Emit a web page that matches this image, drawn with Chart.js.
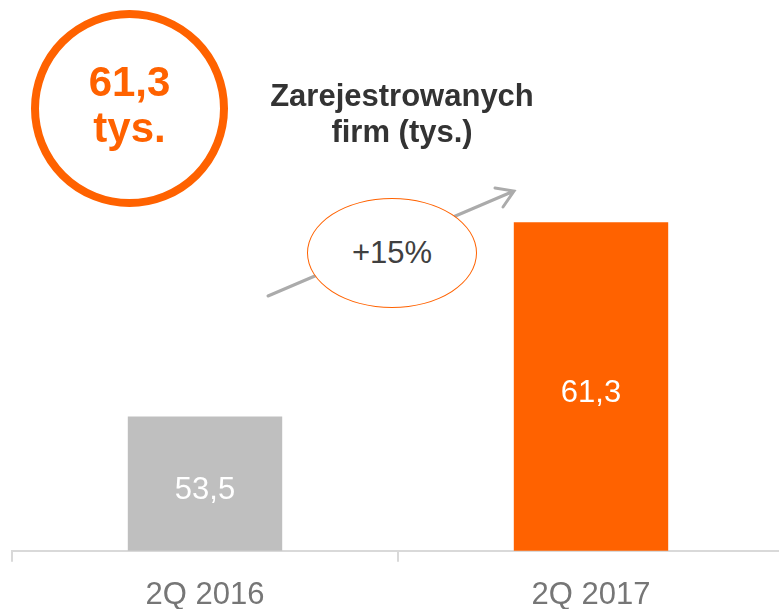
<!DOCTYPE html>
<html>
<head>
<meta charset="utf-8">
<script src="https://cdn.jsdelivr.net/npm/chart.js@4/dist/chart.umd.min.js"></script>
<style>
  html, body { margin: 0; padding: 0; background: #fff; overflow: hidden; }
  #wrap { position: relative; width: 779px; height: 609px; overflow: hidden; }
  #chart { position: absolute; left: 0; top: 0; }
  .badge {
    position: absolute; left: 31px; top: 10px; width: 197px; height: 197px;
    box-sizing: border-box; border: 8px solid #FF6200; border-radius: 50%;
    display: flex; align-items: center; justify-content: center; text-align: center;
    font: bold 42px 'Liberation Sans', Arial, sans-serif; line-height: 46px;
    color: #FF6200; padding-bottom: 7px;
  }
  .title {
    position: absolute; left: 252px; top: 78px; width: 300px; text-align: center;
    font: bold 31px 'Liberation Sans', Arial, sans-serif; line-height: 36px; color: #333;
  }
  .growth {
    position: absolute; left: 307px; top: 198px; width: 170px; height: 110px;
    box-sizing: border-box; border: 1.5px solid #FF6200; border-radius: 50%; background: #fff;
    display: flex; align-items: center; justify-content: center;
    font: 31px 'Liberation Sans', Arial, sans-serif; color: #404040;
  }
</style>
</head>
<body>
<div id="wrap">
  <canvas id="chart" width="784" height="629"></canvas>
  <div class="badge" id="badge"></div>
  <div class="title" id="title"></div>
  <div class="growth" id="growth"></div>
</div>
<script>
const categories = ['2Q 2016', '2Q 2017']
const firms = [53.5, 61.3]
const barColors = ['#BFBFBF', '#FF6200']
const titleLines = ['Zarejestrowanych', 'firm (tys.)']
const badgeLines = ['61,3', 'tys.']
const growthLabel = '+15%'

document.getElementById('title').innerHTML = titleLines.join('<br>')
document.getElementById('badge').innerHTML = badgeLines.join('<br>')
document.getElementById('growth').textContent = growthLabel

const fmt = v => v.toFixed(1).replace('.', ',')

// value labels inside the bars
const barLabels = {
  id: 'barLabels',
  afterDraw(chart) {
    const ctx = chart.ctx
    const yScale = chart.scales.y
    const xScale = chart.scales.x
    ctx.save()
    ctx.fillStyle = '#fff'
    ctx.font = '31px "Liberation Sans", Arial, sans-serif'
    ctx.textAlign = 'center'
    ctx.textBaseline = 'middle'
    firms.forEach((v, i) => {
      const top = yScale.getPixelForValue(v)
      const base = chart.chartArea.bottom
      ctx.fillText(fmt(v), xScale.getPixelForValue(i), (top + base) / 2 + 7)
    })
    ctx.restore()
  }
}

// growth arrow between the bars
const growthArrow = {
  id: 'growthArrow',
  afterDraw(chart) {
    const ctx = chart.ctx
    ctx.save()
    ctx.strokeStyle = '#ABABAB'
    ctx.lineWidth = 3
    ctx.lineCap = 'round'
    ctx.beginPath()
    ctx.moveTo(268, 296)
    ctx.lineTo(514, 191)
    ctx.moveTo(495, 188)
    ctx.lineTo(514, 191)
    ctx.lineTo(503, 207)
    ctx.stroke()
    ctx.restore()
  }
}

new Chart(document.getElementById('chart').getContext('2d'), {
  type: 'bar',
  data: {
    labels: categories,
    datasets: [{
      data: firms,
      backgroundColor: barColors,
      borderWidth: 0,
      barPercentage: 1,
      categoryPercentage: 0.4
    }]
  },
  options: {
    responsive: false,
    animation: false,
    layout: { padding: { left: 12, right: 0, top: 0, bottom: 0 } },
    plugins: {
      legend: { display: false },
      tooltip: { enabled: false }
    },
    scales: {
      x: {
        grid: {
          display: true,
          drawOnChartArea: false,
          drawTicks: true,
          tickLength: 11,
          color: '#D9D9D9',
          lineWidth: 2
        },
        border: { display: true, color: '#D9D9D9', width: 2 },
        ticks: {
          color: '#767676',
          padding: 15,
          font: { family: 'Liberation Sans', size: 31 }
        }
      },
      y: {
        display: false,
        min: 48.11,
        max: 70.22
      }
    }
  },
  plugins: [barLabels, growthArrow]
})
</script>
</body>
</html>
